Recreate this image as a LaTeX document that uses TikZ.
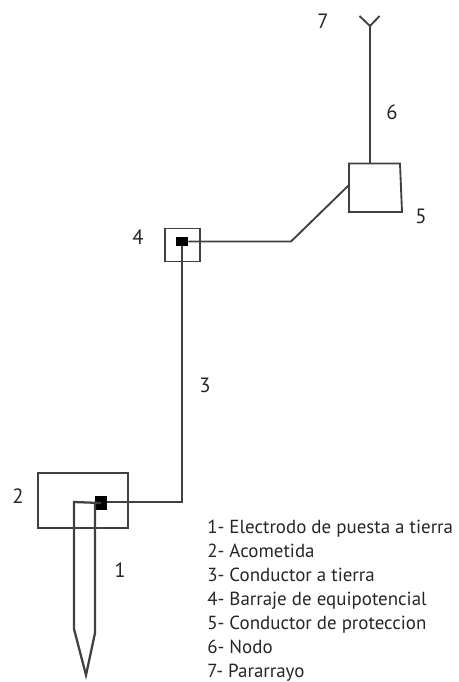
\documentclass[tikz,border=0pt]{standalone}
\usepackage{fontspec}
\setmainfont{PT Sans}
\definecolor{ln}{gray}{0.25}
\definecolor{tx}{gray}{0.15}
\tikzset{
  wire/.style={draw=ln,line width=1.7pt,line join=miter},
  thinwire/.style={draw=ln,line width=1.4pt,line join=miter},
  boxn/.style={draw=ln,line width=1.7pt,inner sep=0pt,minimum width=#1},
  term/.style={fill=black,draw=none,inner sep=0pt},
  num/.style={text=tx,font=\fontsize{15.5}{17}\selectfont,inner sep=0pt},
  leg/.style={text=tx,font=\fontsize{14.2}{16}\selectfont,inner sep=0pt,anchor=base west}
}
\begin{document}
\begin{tikzpicture}[x=0.75pt,y=-0.75pt]
\useasboundingbox (0,0) rectangle (458,682);
% acometida
\node[boxn=67.5pt,minimum height=41.25pt] (b2) at (83,500.5) {};
\node[term,minimum width=9pt,minimum height=10.5pt] (t2) at (101,503) {};
\coordinate (e1) at (74,502);
\coordinate (e2) at (74,629);
\coordinate (e3) at (86,675);
\coordinate (e4) at (95,633);
\coordinate (e5) at (95,503);
\draw[wire] (t2.center) -- (e1) -- (e2) -- (e3) -- (e4) -- (e5);
% barraje
\node[boxn=26.25pt,minimum height=24.75pt,line width=1.2pt] (b4) at (182.5,245) {};
\node[term,minimum width=9pt,minimum height=6.75pt] (t4) at (182,241.5) {};
\coordinate (c3) at (182,502);
\draw[wire] (t2.east |- c3) -- (c3) -- (t4.south -| c3);
\coordinate (k) at (291,241.5);
\coordinate (p1) at (349,163.5);
\coordinate (p2) at (400,163.5);
\coordinate (p3) at (402,212);
\coordinate (p4) at (349,212);
\coordinate (p5) at (349,185);
\draw[thinwire] (t4.east) -- (k) -- (p5);
\draw[thinwire] (p1) -- (p2) -- (p3) -- (p4) -- cycle;
\coordinate (top) at (370,163.5);
\coordinate (y0) at (370,26);
\coordinate (y1) at (359.5,16);
\coordinate (y2) at (379.5,16);
\draw[thinwire] (top) -- (y0);
\draw[thinwire] (y1) -- (y0) -- (y2);
% numbers
\node[num] (n1) at (120,570) {1};
\node[num] (n2) at (18,496) {2};
\node[num] (n3) at (205,385) {3};
\node[num] (n4) at (138,237) {4};
\node[num] (n5) at (421,216) {5};
\node[num] (n6) at (392,112) {6};
\node[num] (n7) at (323,21) {7};
% legend
\node[leg] (l1) at (207,533) {1- Electrodo de puesta a tierra};
\node[leg] (l2) at (207,557) {2- Acometida};
\node[leg] (l3) at (207,581) {3- Conductor a tierra};
\node[leg] (l4) at (207,605) {4- Barraje de equipotencial};
\node[leg] (l5) at (207,629) {5- Conductor de proteccion};
\node[leg] (l6) at (207,653) {6- Nodo};
\node[leg] (l7) at (207,677) {7- Pararrayo};
\end{tikzpicture}
\end{document}
